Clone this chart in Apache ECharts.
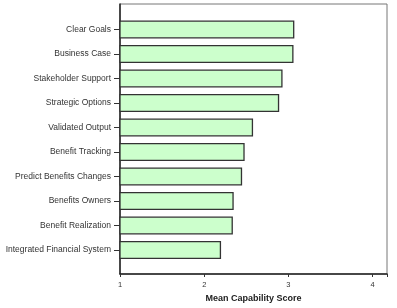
<!DOCTYPE html>
<html>
<head>
<meta charset="utf-8">
<script src="https://cdn.jsdelivr.net/npm/echarts@6/dist/echarts.min.js"></script>
<style>html,body{margin:0;padding:0;background:#fff;}#c{width:397px;height:308px;}</style>
</head>
<body>
<div id="c"></div>
<script>
const categories = ['Clear Goals','Business Case','Stakeholder Support','Strategic Options','Validated Output','Benefit Tracking','Predict Benefits Changes','Benefits Owners','Benefit Realization','Integrated Financial System'];
const scores = [3.07, 3.06, 2.93, 2.89, 2.58, 2.48, 2.45, 2.35, 2.34, 2.20];
const xTicks = [1, 2, 3, 4];
const axisTitle = 'Mean Capability Score';

const xMin = 1, xMax = 4.17;
const chart = echarts.init(document.getElementById('c'), null, {renderer: 'canvas'});
chart.setOption({
  animation: false,
  backgroundColor: '#fff',
  grid: [
    {left: 120, right: 10, top: 4, bottom: 32, show: true, borderColor: '#777', borderWidth: 1, backgroundColor: 'transparent'},
    {left: 120, right: 10, top: 17.25, bottom: 45.75, show: false}
  ],
  xAxis: [
    {gridIndex: 0, type: 'value', min: xMin, max: xMax, interval: 1,
     name: axisTitle, nameLocation: 'middle', nameGap: 20,
     nameTextStyle: {fontFamily: 'Liberation Sans', fontSize: 9, fontWeight: 'bold', color: '#222'},
     axisLine: {show: true, lineStyle: {color: '#222', width: 1.5}},
     axisTick: {show: true, length: 3, lineStyle: {color: '#333'}},
     axisLabel: {fontFamily: 'Liberation Sans', fontSize: 7.5, color: '#333', margin: 7,
       formatter: v => xTicks.includes(v) ? String(v) : ''},
     splitLine: {show: false}},
    {gridIndex: 1, type: 'value', min: xMin, max: xMax, show: false}
  ],
  yAxis: [
    {gridIndex: 0, type: 'value', min: 0, max: 1,
     axisLine: {show: true, lineStyle: {color: '#222', width: 1.5}},
     axisTick: {show: false}, axisLabel: {show: false}, splitLine: {show: false}},
    {gridIndex: 1, type: 'category', data: categories, inverse: true,
     axisLine: {show: false},
     axisTick: {show: true, alignWithLabel: true, length: 6, lineStyle: {color: '#333'}},
     axisLabel: {fontFamily: 'Liberation Sans', fontSize: 8.5, color: '#333', margin: 9}}
  ],
  series: [{
    type: 'bar', xAxisIndex: 1, yAxisIndex: 1,
    data: scores,
    barWidth: 18,
    itemStyle: {color: '#ccffcc', borderColor: '#333', borderWidth: 1.3}
  }]
});
</script>
</body>
</html>
